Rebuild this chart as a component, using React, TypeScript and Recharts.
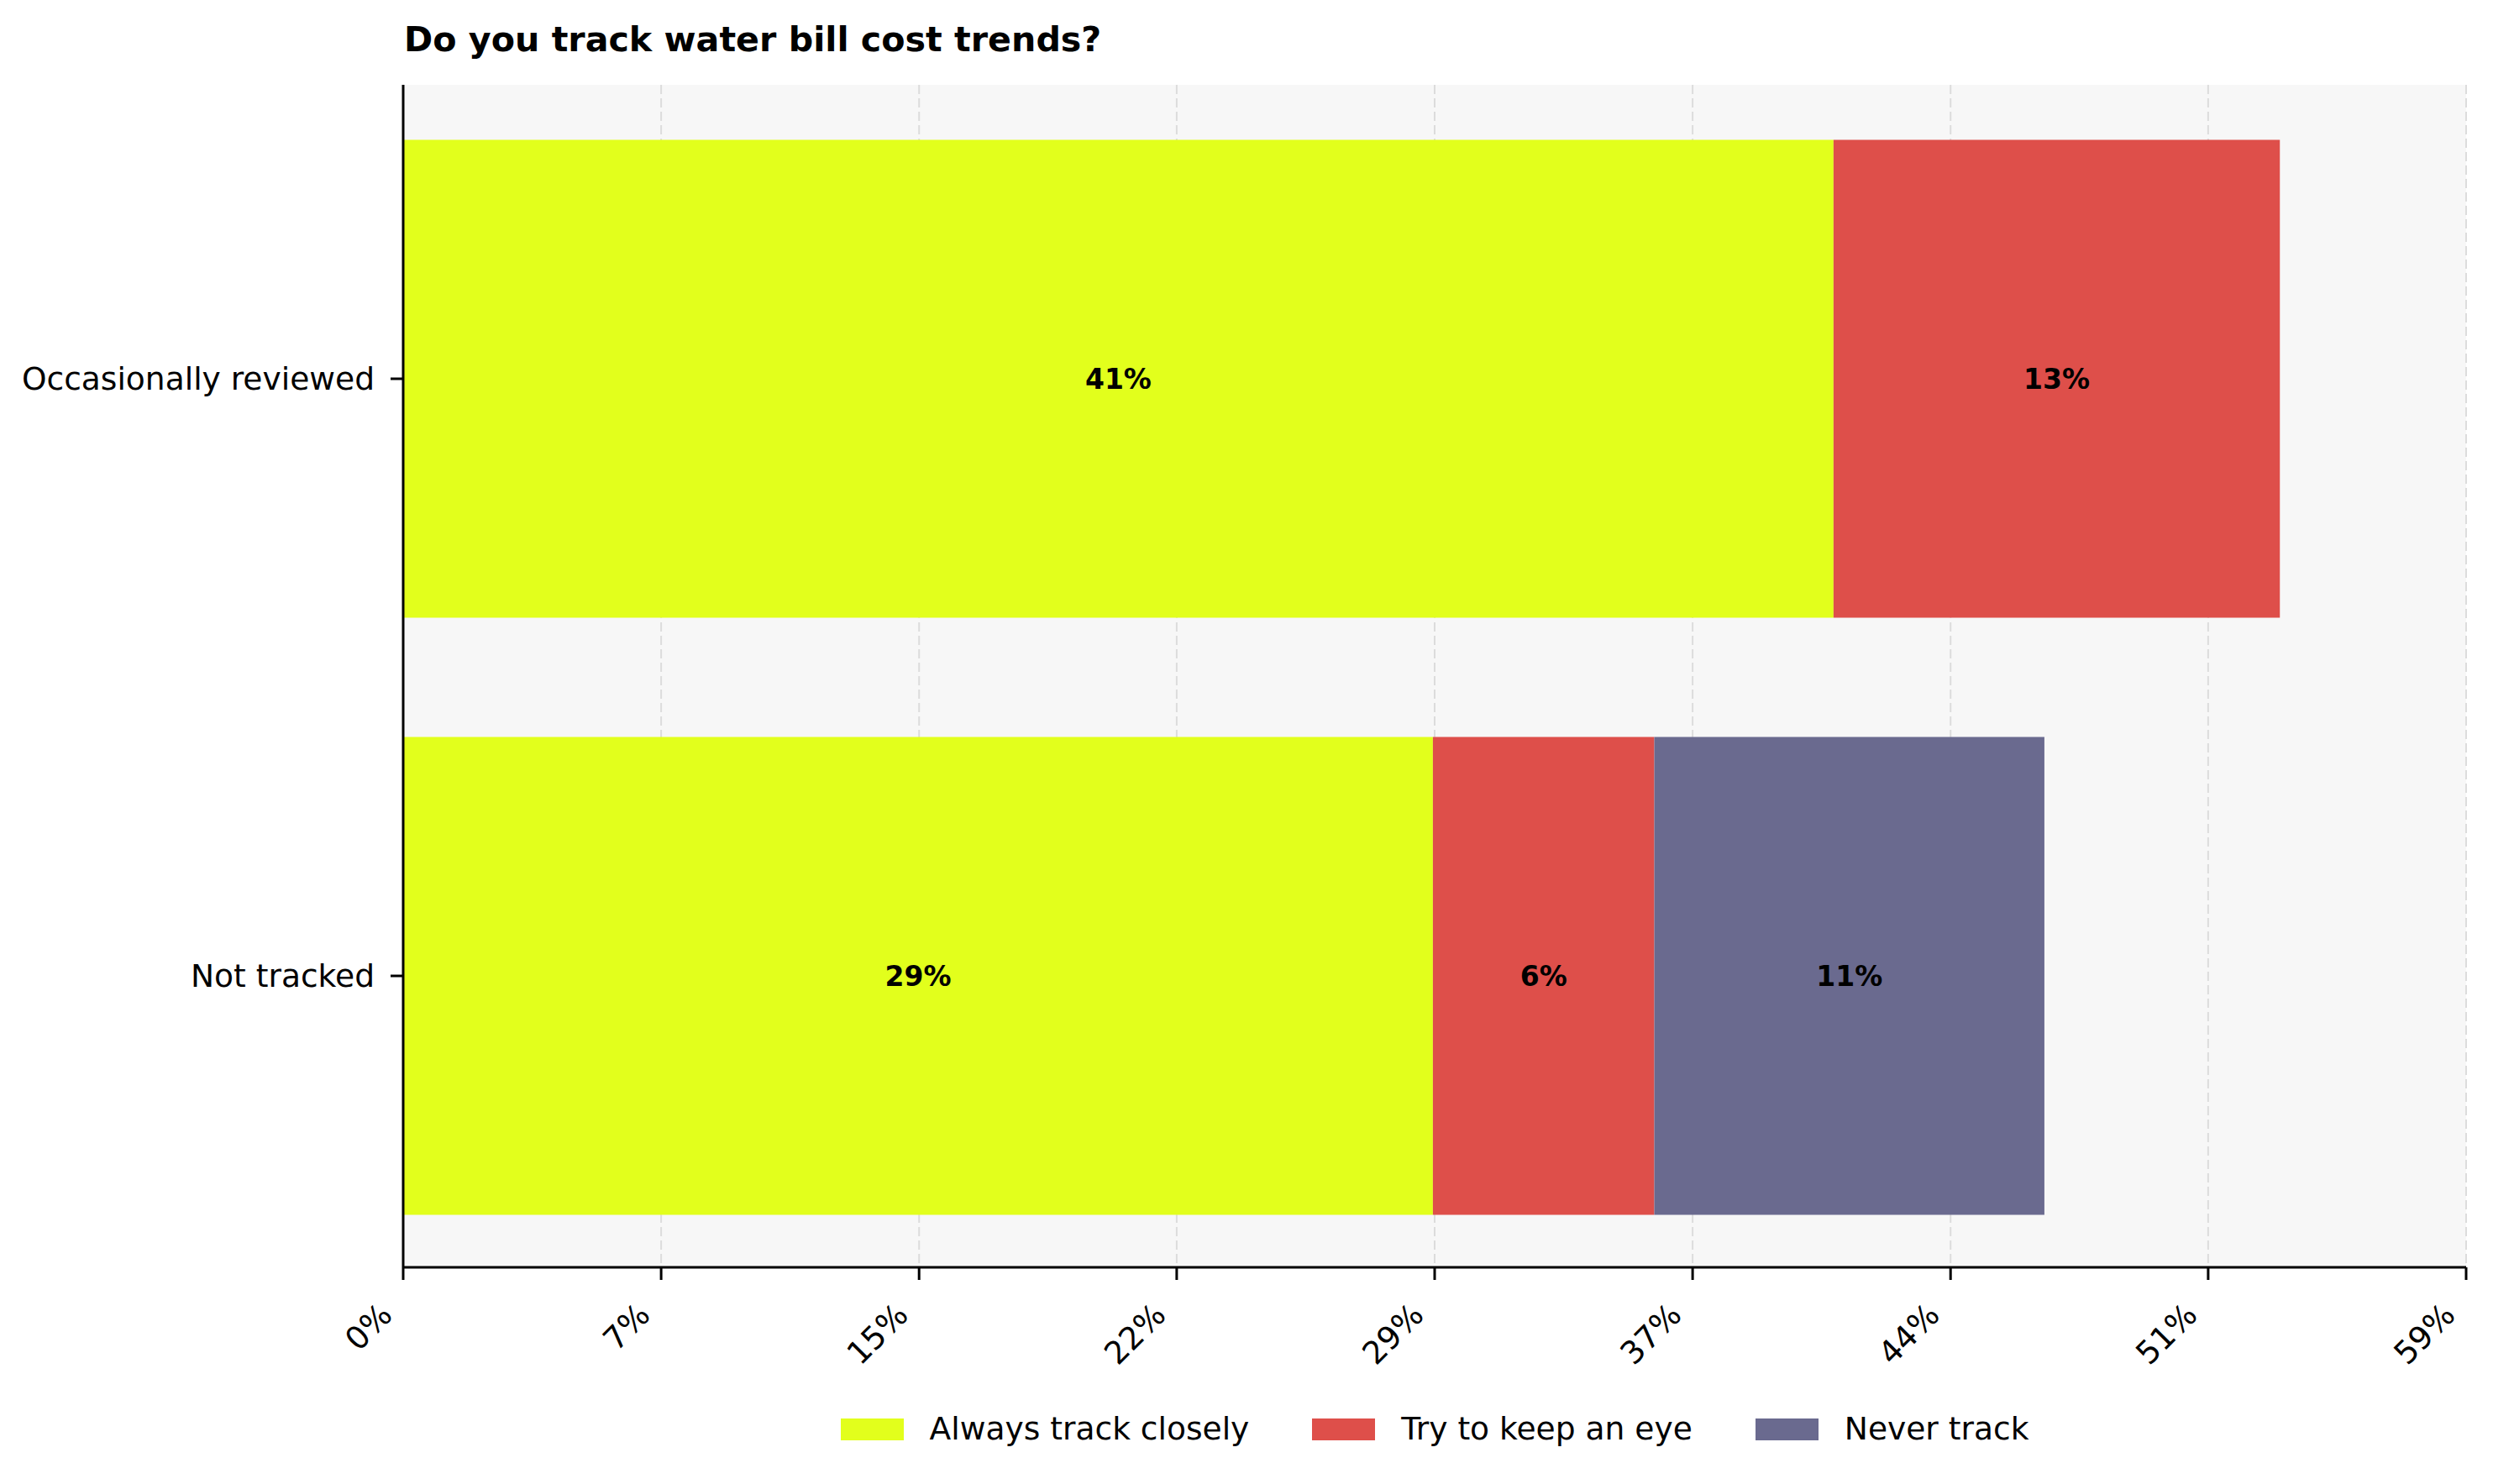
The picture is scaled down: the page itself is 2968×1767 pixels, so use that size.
import {
  BarChart,
  Bar,
  XAxis,
  YAxis,
  CartesianGrid,
  Legend,
  LabelList,
} from "recharts";

const CATEGORIES: string[] = ["Occasionally reviewed", "Not tracked"];
const ALWAYS: number[] = [40.7, 29.3];
const TRY_EYE: number[] = [12.7, 6.3];
const NEVER: number[] = [0, 11.1];

const SERIES_NAMES: string[] = [
  "Always track closely",
  "Try to keep an eye",
  "Never track",
];
const SERIES_KEYS: string[] = ["always", "tryEye", "never"];
const COLORS: string[] = ["#e2ff1c", "#de4f4a", "#6a6a8f"];

const X_TICKS: number[] = [0, 7.34, 14.68, 22.01, 29.35, 36.69, 44.03, 51.36, 58.7];
const X_TICK_LABELS: string[] = ["0%", "7%", "15%", "22%", "29%", "37%", "44%", "51%", "59%"];

const TITLE = "Do you track water bill cost trends?";

const W = 2968;
const H = 1767;
const FONT = "DejaVu Sans";
const TICK_FS = 37.6;

const data = CATEGORIES.map((name, i) => ({
  name,
  always: ALWAYS[i],
  tryEye: TRY_EYE[i],
  never: NEVER[i],
}));

const XTick = (props: any) => {
  const { x, y, payload } = props;
  const idx = X_TICKS.indexOf(payload.value);
  const ax = x - 11;
  const ay = y + 44;
  return (
    <text
      x={ax}
      y={ay}
      transform={`rotate(-45, ${ax}, ${ay})`}
      textAnchor="end"
      fontSize={TICK_FS}
      fontFamily={FONT}
      fill="#000"
    >
      {idx >= 0 ? X_TICK_LABELS[idx] : ""}
    </text>
  );
};

const SegmentLabel = (props: any) => {
  const { x, y, width, height, value } = props;
  if (!value) return null;
  return (
    <text
      x={x + width / 2}
      y={y + height / 2}
      dy="0.36em"
      textAnchor="middle"
      fontSize={33}
      fontWeight="bold"
      fontFamily={FONT}
      fill="#000"
    >
      {`${Math.round(value)}%`}
    </text>
  );
};

const LegendContent = () => (
  <div
    style={{
      display: "flex",
      justifyContent: "center",
      alignItems: "center",
      fontFamily: FONT,
      fontSize: TICK_FS,
      lineHeight: "37px",
    }}
  >
    {SERIES_NAMES.map((name, i) => (
      <div
        key={name}
        style={{
          display: "flex",
          alignItems: "center",
          marginLeft: i === 0 ? 0 : 75,
        }}
      >
        <div
          style={{
            width: 75,
            height: 26,
            background: COLORS[i],
            marginRight: 31,
          }}
        />
        <span style={{ color: "#000", whiteSpace: "nowrap" }}>{name}</span>
      </div>
    ))}
  </div>
);

export default function App() {
  return (
    <div
      style={{
        position: "absolute",
        left: 0,
        top: 0,
        width: W,
        height: H,
        background: "#fff",
        fontFamily: FONT,
      }}
    >
      <BarChart
        width={W}
        height={H}
        data={data}
        layout="vertical"
        margin={{ top: 101, right: 32, bottom: 138, left: 0 }}
      >
        <CartesianGrid
          horizontal={false}
          vertical={true}
          fill="#f7f7f7"
          stroke="#dcdcdc"
          strokeWidth={2}
          strokeDasharray="11 5"
        />
        <XAxis
          type="number"
          domain={[0, 58.7]}
          ticks={X_TICKS}
          interval={0}
          height={120}
          tickSize={15}
          tickMargin={0}
          axisLine={{ stroke: "#000", strokeWidth: 3 }}
          tickLine={{ stroke: "#000", strokeWidth: 3 }}
          tick={<XTick />}
          allowDataOverflow
        />
        <YAxis
          type="category"
          dataKey="name"
          width={480}
          tickSize={15}
          tickMargin={19}
          padding={{ top: -5.5, bottom: -8.5 }}
          axisLine={{ stroke: "#000", strokeWidth: 3 }}
          tickLine={{ stroke: "#000", strokeWidth: 3 }}
          tick={{ fontSize: TICK_FS, fill: "#000", fontFamily: FONT }}
        />
        <Legend
          layout="horizontal"
          verticalAlign="middle"
          align="center"
          content={<LegendContent />}
          wrapperStyle={{ left: 480, top: 1683, width: 2456, height: 37 }}
        />
        {SERIES_KEYS.map((key, i) => (
          <Bar
            key={key}
            dataKey={key}
            name={SERIES_NAMES[i]}
            stackId="a"
            fill={COLORS[i]}
            barSize={569}
            isAnimationActive={false}
          >
            <LabelList dataKey={key} content={<SegmentLabel />} />
          </Bar>
        ))}
      </BarChart>
      <svg
        width={W}
        height={90}
        style={{ position: "absolute", left: 0, top: 0, pointerEvents: "none" }}
      >
        <text
          x={481}
          y={61}
          fontSize={41.2}
          fontWeight="bold"
          fontFamily={FONT}
          fill="#000"
        >
          {TITLE}
        </text>
      </svg>
    </div>
  );
}
